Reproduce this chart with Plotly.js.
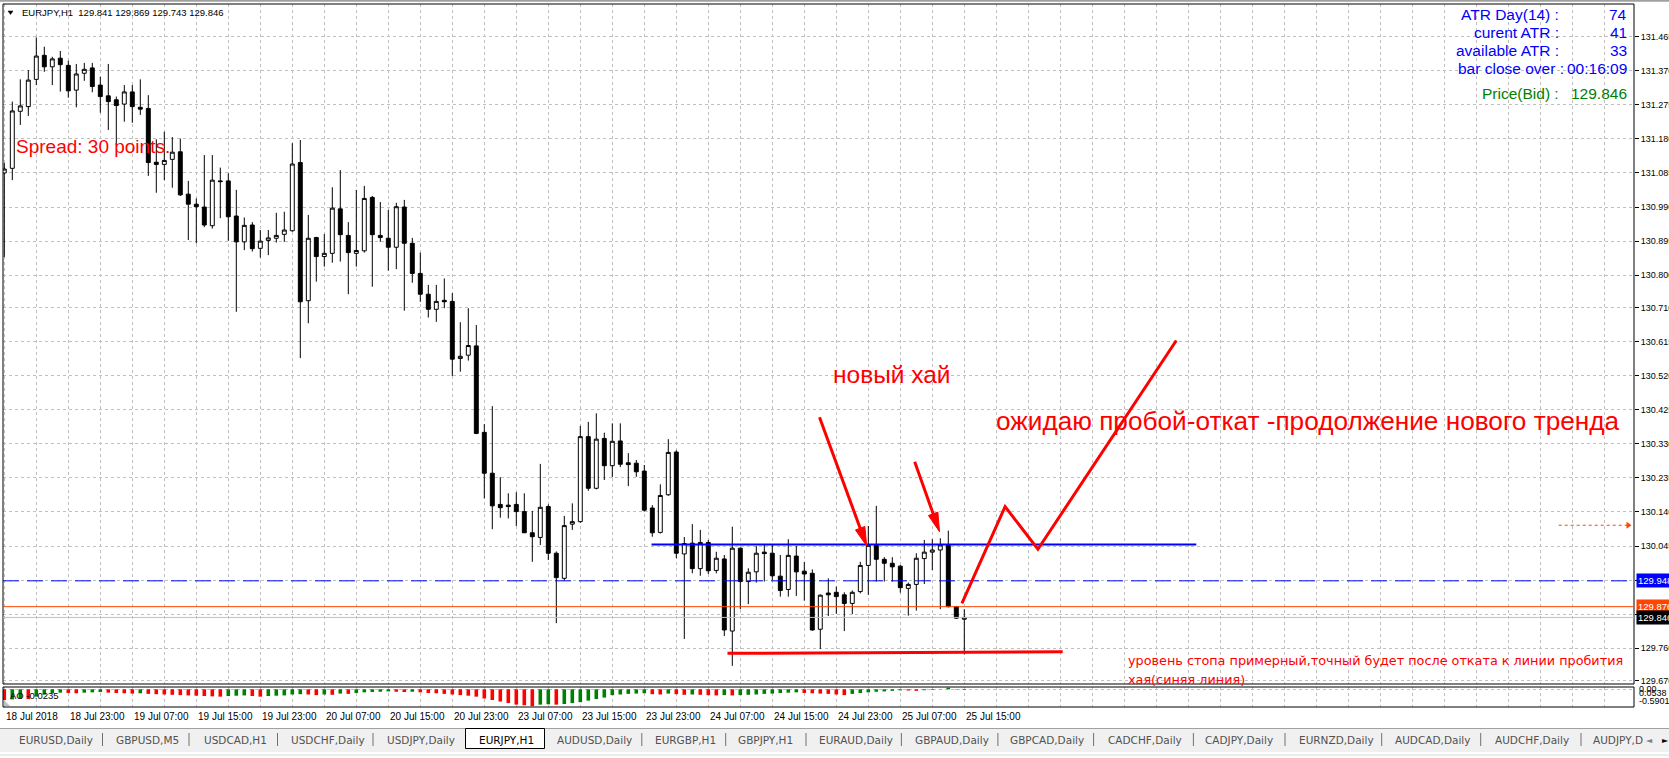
<!DOCTYPE html>
<html><head><meta charset="utf-8">
<script src="https://cdn.plot.ly/plotly-3.0.1.min.js"></script>
<style>html,body{margin:0;padding:0;background:#fff;overflow:hidden}#chart{width:1669px;height:758px}</style>
</head><body><div id="chart"></div>
<script>
// ---------------- DATA (EURJPY, H1) ----------------
const open = [131.085,131.098,131.257,131.270,131.346,131.413,131.381,131.405,131.385,131.316,
131.363,131.378,131.330,131.300,131.289,131.277,131.311,131.268,131.265,131.115,
131.109,131.123,131.144,131.026,130.998,130.990,130.938,131.063,131.063,130.965,
130.893,130.940,130.875,130.897,130.903,130.914,130.924,131.114,130.729,130.905,
130.852,130.861,130.985,130.911,130.861,130.868,131.017,130.911,130.903,130.878,
130.990,130.889,130.805,130.747,130.705,130.730,130.727,130.568,130.577,130.603,
130.362,130.248,130.161,130.159,130.161,130.141,130.082,130.069,130.155,130.025,
129.955,130.106,130.113,130.350,130.206,130.345,130.269,130.338,130.277,130.276,
130.254,130.151,130.083,130.188,130.307,130.023,130.053,129.982,130.055,129.977,
130.009,129.808,130.039,129.946,129.973,130.028,130.025,129.961,129.924,130.017,
129.975,129.969,129.813,129.914,129.916,129.909,129.885,129.918,129.991,130.047,
130.008,129.997,129.989,129.927,129.938,130.010,130.028,130.034,130.047,129.876,
129.841];
const high = [131.113,131.284,131.346,131.372,131.463,131.437,131.409,131.425,131.398,131.389,
131.392,131.392,131.353,131.389,131.298,131.330,131.330,131.346,131.302,131.179,
131.200,131.185,131.181,131.063,131.014,131.135,131.135,131.100,131.084,131.038,
130.961,130.948,130.926,130.926,130.974,130.977,131.168,131.177,130.968,130.907,
130.915,131.045,131.093,130.948,131.038,131.049,131.021,131.004,130.982,131.002,
131.010,130.904,130.863,130.773,130.773,130.791,130.750,130.669,130.708,130.661,
130.385,130.435,130.237,130.192,130.195,130.192,130.143,130.274,130.161,130.030,
130.129,130.164,130.380,130.391,130.415,130.361,130.387,130.387,130.304,130.285,
130.271,130.159,130.217,130.343,130.312,130.070,130.106,130.090,130.062,130.029,
130.020,130.099,130.041,129.983,130.045,130.048,130.048,130.020,130.064,130.045,
130.001,129.980,129.910,129.955,129.932,129.916,129.921,130.001,130.101,130.157,
130.014,130.014,129.992,129.943,130.025,130.062,130.064,130.067,130.088,129.878,
129.869];
const low = [130.851,131.065,131.219,131.244,131.330,131.367,131.330,131.312,131.295,131.268,
131.342,131.310,131.253,131.205,131.163,131.228,131.225,131.247,131.077,131.030,
131.065,131.044,131.021,130.898,130.889,130.934,130.930,130.959,130.896,130.698,
130.870,130.866,130.849,130.856,130.891,130.893,130.921,130.569,130.666,130.782,
130.824,130.835,130.838,130.747,130.824,130.863,130.768,130.893,130.813,130.817,
130.701,130.779,130.726,130.682,130.670,130.708,130.519,130.531,130.562,130.357,
130.178,130.092,130.124,130.122,130.101,130.082,130.001,130.048,130.006,129.830,
129.948,130.090,130.110,130.199,130.203,130.229,130.237,130.265,130.212,130.238,
130.141,130.071,130.080,130.185,130.011,129.786,129.969,129.962,129.967,129.969,
129.794,129.711,129.869,129.883,129.943,129.946,129.950,129.904,129.904,129.906,
129.893,129.809,129.758,129.850,129.856,129.808,129.855,129.913,129.909,129.946,
129.946,129.946,129.915,129.851,129.865,129.939,129.978,129.869,129.874,129.842,
129.743];
const close = [131.096,131.258,131.272,131.344,131.411,131.381,131.403,131.387,131.314,131.361,
131.374,131.326,131.298,131.284,131.273,131.311,131.270,131.263,131.114,131.109,
131.120,131.143,131.024,130.998,130.991,130.940,131.065,131.061,130.963,130.893,
130.939,130.874,130.895,130.904,130.911,130.926,131.110,130.726,130.903,130.852,
130.861,130.987,130.913,130.863,130.869,131.014,130.913,130.905,130.878,130.991,
130.889,130.805,130.747,130.705,130.727,130.726,130.566,130.574,130.604,130.359,
130.248,130.157,130.152,130.155,130.141,130.082,130.071,130.153,130.025,129.957,
130.102,130.113,130.350,130.206,130.343,130.269,130.337,130.273,130.272,130.252,
130.145,130.082,130.186,130.306,130.025,130.052,129.982,130.055,129.976,130.011,
129.811,130.039,129.946,129.972,130.025,130.024,129.962,129.921,130.019,129.973,
129.967,129.811,129.908,129.909,129.904,129.885,129.916,129.991,130.047,130.008,
129.997,129.987,129.929,129.938,130.011,130.028,130.034,130.048,129.876,129.844,
129.846];
// Awesome Oscillator
const ao = [-0.376,-0.354,-0.322,-0.343,-0.258,-0.182,-0.139,-0.118,-0.129,-0.139,
-0.118,-0.107,-0.097,-0.118,-0.129,-0.139,-0.150,-0.139,-0.161,-0.172,
-0.182,-0.193,-0.204,-0.215,-0.225,-0.236,-0.247,-0.258,-0.236,-0.225,
-0.215,-0.236,-0.258,-0.236,-0.225,-0.215,-0.182,-0.172,-0.182,-0.204,
-0.182,-0.193,-0.150,-0.161,-0.129,-0.107,-0.097,-0.086,-0.075,-0.086,
-0.097,-0.086,-0.107,-0.129,-0.139,-0.161,-0.182,-0.204,-0.225,-0.258,
-0.322,-0.376,-0.429,-0.483,-0.537,-0.558,-0.590,-0.537,-0.526,-0.537,
-0.515,-0.483,-0.451,-0.397,-0.343,-0.290,-0.204,-0.182,-0.161,-0.150,
-0.139,-0.172,-0.182,-0.150,-0.172,-0.193,-0.182,-0.193,-0.204,-0.215,
-0.204,-0.215,-0.204,-0.193,-0.182,-0.161,-0.150,-0.129,-0.118,-0.107,
-0.129,-0.139,-0.150,-0.161,-0.182,-0.204,-0.161,-0.129,-0.107,-0.086,
-0.075,-0.054,-0.038,-0.043,-0.054,-0.032,-0.021,-0.008,0.054,-0.012,
-0.0235];
const timeTickBars = [0,8,16,24,32,40,48,56,64,72,80,88,96,104,112,120];
const timeTickLabels = ["18 Jul 2018","18 Jul 23:00","19 Jul 07:00","19 Jul 15:00","19 Jul 23:00",
"20 Jul 07:00","20 Jul 15:00","20 Jul 23:00","23 Jul 07:00","23 Jul 15:00","23 Jul 23:00",
"24 Jul 07:00","24 Jul 15:00","24 Jul 23:00","25 Jul 07:00","25 Jul 15:00"];
const priceTicks = [131.465,131.370,131.275,131.180,131.085,130.990,130.895,130.800,130.710,130.615,
130.520,130.425,130.330,130.235,130.140,130.045,129.950,129.855,129.760,129.670];
const hiddenPriceTicks = [129.950,129.855];
const aoAxisLabels = ["0.00","0.0538","-0.5901"];
const infoLabels = ["ATR Day(14) :","curent ATR :","available ATR :","bar close over :"];
const infoValues = ["74","41","33","00:16:09"];
const spreadPoints = 30;
const blueLevel = 129.948, askLevel = 129.876, bidLevel = close[close.length-1];
const breakoutLevel = 130.049, alertLevel = 130.103;
const tabNames = ["EURUSD,Daily","GBPUSD,M5","USDCAD,H1","USDCHF,Daily","USDJPY,Daily","EURJPY,H1",
"AUDUSD,Daily","EURGBP,H1","GBPJPY,H1","EURAUD,Daily","GBPAUD,Daily","GBPCAD,Daily","CADCHF,Daily",
"CADJPY,Daily","EURNZD,Daily","AUDCAD,Daily","AUDCHF,Daily","AUDJPY,D"];
const activeTab = "EURJPY,H1";

// ---------------- LAYOUT GEOMETRY ----------------
const W = 1669, H = 758;
const PX = x => x / W, PY = y => 1 - y / H;
const PLOT_L = 3, PLOT_R = 1634, MAIN_T = 4, MAIN_B = 684, AO_T = 687, AO_B = 707;
const BAR_PX = 8, X_MIN = -0.1625, X_MAX = X_MIN + (PLOT_R - PLOT_L) / BAR_PX;
const Y_MAX = 131.5561, Y_MIN = 129.6604;
const toPx = (b, p) => [PLOT_L + (b - X_MIN) * BAR_PX, MAIN_T + (Y_MAX - p) / (Y_MAX - Y_MIN) * (MAIN_B - MAIN_T)];
const RED = '#ff0000', BLUE = '#0000ff', ORANGE = '#ff4500';
const FONT = 'Liberation Sans, Arial, sans-serif';
const bars = open.map((_, i) => i);
const vgrid = []; for (let b = 0; b <= 200; b += 4) vgrid.push(b);

const aoColors = ao.map((v, i) => (i > 0 && v > ao[i - 1]) ? '#008000' : '#ff0000');

const traces = [
  {type:'candlestick', x:bars, open, high, low, close, xaxis:'x', yaxis:'y',
   whiskerwidth:0, line:{width:1},
   increasing:{line:{color:'#000', width:1}, fillcolor:'#ffffff'},
   decreasing:{line:{color:'#000', width:1}, fillcolor:'#000000'},
   showlegend:false, hoverinfo:'skip'},
  {type:'bar', x:bars, y:ao, xaxis:'x2', yaxis:'y2', width:0.45,
   marker:{color:aoColors, line:{width:0}}, showlegend:false, hoverinfo:'skip'}
];

// ---------------- DRAWINGS ----------------
const shapes = [];
const ann = [];
shapes.push({type:'line', xref:'paper', yref:'paper', x0:0, x1:1, y0:PY(0.8), y1:PY(0.8), line:{color:'#a0a0a0', width:2}});
shapes.push({type:'rect', xref:'paper', yref:'paper', x0:PX(PLOT_L), x1:PX(PLOT_R), y0:PY(MAIN_B), y1:PY(MAIN_T), line:{color:'#000', width:1}, fillcolor:'rgba(0,0,0,0)'});
shapes.push({type:'rect', xref:'paper', yref:'paper', x0:PX(PLOT_L), x1:PX(PLOT_R), y0:PY(AO_B), y1:PY(AO_T), line:{color:'#000', width:1}, fillcolor:'rgba(0,0,0,0)'});
shapes.push({type:'path', xref:'paper', yref:'paper', path:`M${PX(8)},${PY(11)} L${PX(13)},${PY(11)} L${PX(10.5)},${PY(14.5)} Z`, fillcolor:'#000', line:{color:'#000', width:0.5}});
shapes.push({type:'path', xref:'paper', yref:'paper', path:`M${PX(4)},${PY(700)} L${PX(4)},${PY(706)} L${PX(10)},${PY(706)} Z`, fillcolor:'#c0c0c0', line:{width:0}});

shapes.push({type:'line', xref:'paper', yref:'y', x0:PX(PLOT_L), x1:PX(PLOT_R), y0:bidLevel, y1:bidLevel, line:{color:'#c0c0c0', width:1}});
shapes.push({type:'line', xref:'paper', yref:'y', x0:PX(PLOT_L), x1:PX(PLOT_R), y0:askLevel, y1:askLevel, line:{color:ORANGE, width:1}});
shapes.push({type:'line', xref:'paper', yref:'y', x0:PX(PLOT_L), x1:PX(PLOT_R), y0:blueLevel, y1:blueLevel, line:{color:BLUE, width:1, dash:'16px,8px'}});
shapes.push({type:'line', xref:'x', yref:'y', x0:80.9, x1:149.0, y0:breakoutLevel, y1:breakoutLevel, line:{color:BLUE, width:2}});
shapes.push({type:'line', xref:'x', yref:'y', x0:90.4, y0:129.746, x1:132.3, y1:129.750, line:{color:RED, width:3}});
const zigzag = [[119.7,129.885],[125.1,130.155],[129.2,130.036],[146.5,130.618]];
shapes.push({type:'path', xref:'x', yref:'y', path:'M' + zigzag.map(p => p.join(',')).join(' L'), line:{color:RED, width:3}, fillcolor:'rgba(0,0,0,0)'});
shapes.push({type:'line', xref:'x', yref:'y', x0:194.3, x1:202.9, y0:alertLevel, y1:alertLevel, line:{color:ORANGE, width:1, dash:'3px,3px'}});
(function(){
  const [tx, ty] = toPx(203.4, alertLevel);
  shapes.push({type:'path', xref:'paper', yref:'paper', path:`M${PX(tx)},${PY(ty)} L${PX(tx-5)},${PY(ty-3.5)} L${PX(tx-5)},${PY(ty+3.5)} Z`, fillcolor:ORANGE, line:{width:0}});
})();
function arrow(from, to){
  const [sx, sy] = toPx(from[0], from[1]), [tx, ty] = toPx(to[0], to[1]);
  const dx = tx - sx, dy = ty - sy, len = Math.hypot(dx, dy), ux = dx/len, uy = dy/len, nx = -uy, ny = ux;
  const HL = 19, HW = 5;
  const bx = tx - ux*HL, by = ty - uy*HL, ex = tx - ux*(HL-4), ey = ty - uy*(HL-4);
  shapes.push({type:'line', xref:'paper', yref:'paper', x0:PX(sx), y0:PY(sy), x1:PX(ex), y1:PY(ey), line:{color:RED, width:3}});
  shapes.push({type:'path', xref:'paper', yref:'paper', path:`M${PX(tx)},${PY(ty)} L${PX(bx+nx*HW)},${PY(by+ny*HW)} L${PX(bx-nx*HW)},${PY(by-ny*HW)} Z`, fillcolor:RED, line:{color:RED, width:1}});
}
arrow([101.9,130.404],[107.8,130.045]);
arrow([113.8,130.280],[116.9,130.085]);

// ---------------- TEXTS ----------------
const T = (x, y, text, opt = {}) => ann.push(Object.assign({xref:'paper', yref:'paper', x:PX(x), y:PY(y), text, showarrow:false, xanchor:'left', yanchor:'middle', font:{family:FONT, size:10, color:'#000'}}, opt));
const n = v => v.toFixed(3);
const last = close.length - 1;
T(20, 12.7, `EURJPY,H1\u00a0\u00a0${n(open[last])} ${n(high[last])} ${n(low[last])} ${n(close[last])}`, {font:{family:FONT, size:9.5, color:'#000'}});
T(14, 146.5, `Spread: ${spreadPoints} points.`, {font:{family:FONT, size:19, color:RED}});
const infoY = [14, 32.3, 50, 68.3];
infoLabels.forEach((l, i) => {
  T(i === 3 ? 1566 : 1561, infoY[i], l, {xanchor:'right', font:{family:FONT, size:15.5, color:BLUE}});
  T(1629, infoY[i], infoValues[i], {xanchor:'right', font:{family:FONT, size:15.5, color:BLUE}});
});
T(1561, 93.3, 'Price(Bid) :', {xanchor:'right', font:{family:FONT, size:15.5, color:'#008000'}});
T(1629, 93.3, n(close[last]), {xanchor:'right', font:{family:FONT, size:15.5, color:'#008000'}});
T(831, 375, 'новый хай', {font:{family:FONT, size:24.5, color:RED}});
T(994, 421, 'ожидаю пробой-откат -продолжение нового тренда', {font:{family:FONT, size:26.2, color:RED}});
T(1126, 660.7, 'уровень стопа примерный,точный будет после отката к линии пробития', {font:{family:'DejaVu Sans, sans-serif', size:12.8, color:RED}});
T(1126, 679.3, 'хая(синяя линия)', {font:{family:'DejaVu Sans, sans-serif', size:12.8, color:RED}});
[[blueLevel, BLUE], [askLevel, ORANGE], [bidLevel, '#000']].forEach(([p, c]) => {
  ann.push({xref:'paper', yref:'y', x:PX(1635.5), y:p, text:n(p), showarrow:false, xanchor:'left', yanchor:'middle', bgcolor:c, borderpad:1, font:{family:FONT, size:9.5, color:'#fff'}});
});
T(8, 695, `AO ${ao[last].toFixed(4)}`, {font:{family:FONT, size:9.5, color:'#000'}});
T(1637, 689, aoAxisLabels[0], {font:{family:FONT, size:9, color:'#000'}});
T(1637, 693, aoAxisLabels[1], {font:{family:FONT, size:9, color:'#000'}});
T(1637, 701, aoAxisLabels[2], {font:{family:FONT, size:9, color:'#000'}});
timeTickBars.forEach((b, i) => {
  ann.push({xref:'x2', yref:'paper', x:b, y:PY(716.5), text:timeTickLabels[i], showarrow:false, xanchor:'left', yanchor:'middle', xshift:-0.5, font:{family:FONT, size:10, color:'#000'}});
});

// ---------------- TAB BAR ----------------
shapes.push({type:'rect', xref:'paper', yref:'paper', x0:0, x1:1, y0:PY(752), y1:PY(728.5), fillcolor:'#f0f0f0', line:{width:0}, layer:'below'});
shapes.push({type:'line', xref:'paper', yref:'paper', x0:0, x1:1, y0:PY(728.5), y1:PY(728.5), line:{color:'#a0a0a0', width:1}});
shapes.push({type:'line', xref:'paper', yref:'paper', x0:0, x1:1, y0:PY(755), y1:PY(755), line:{color:'#d8d8d8', width:1}});
const tabX = [17,113.6,201.8,288.6,384.6,476.8,555,652.5,736.4,816.8,912.5,1007.9,1105.5,1203.4,1296.8,1392.8,1493.3,1591];
const sepX = [102.5,189,277.5,373,641.8,725.7,806,901.4,997.9,1093.6,1193.4,1285,1381.7,1480.7,1581];
shapes.push({type:'rect', xref:'paper', yref:'paper', x0:PX(465.5), x1:PX(544.5), y0:PY(748.5), y1:PY(728.5), fillcolor:'#fff', line:{color:'#000', width:1}});
sepX.forEach(x => shapes.push({type:'line', xref:'paper', yref:'paper', x0:PX(x), x1:PX(x), y0:PY(733), y1:PY(746), line:{color:'#707070', width:1}}));
tabNames.forEach((t, i) => T(tabX[i], 740, t, {font:{family:'DejaVu Sans, sans-serif', size:10.5, color: t === activeTab ? '#000' : '#505050'}}));
T(1644, 740, '\u25C4', {font:{family:'DejaVu Sans', size:8, color:'#808080'}});
T(1660, 740, '\u25BA', {font:{family:'DejaVu Sans', size:8, color:'#000'}});

// ---------------- AXES ----------------
const grid = {showgrid:true, gridcolor:'#c0c0c0', griddash:'3px,3px', gridwidth:1, zeroline:false, showline:false, fixedrange:true};
const layout = {
  width:W, height:H, margin:{l:0, r:0, t:0, b:0, pad:0},
  paper_bgcolor:'#fff', plot_bgcolor:'#fff', showlegend:false, hovermode:false,
  xaxis:Object.assign({domain:[PX(PLOT_L), PX(PLOT_R)], range:[X_MIN, X_MAX], anchor:'y', tickmode:'array', tickvals:vgrid, showticklabels:false, ticks:'', rangeslider:{visible:false}}, grid),
  yaxis:Object.assign({domain:[PY(MAIN_B), PY(MAIN_T)], range:[Y_MIN, Y_MAX], anchor:'x', side:'right', tickmode:'array', tickvals:priceTicks,
    ticktext:priceTicks.map(p => hiddenPriceTicks.includes(p) ? '' : n(p)), ticks:'outside', ticklen:4, tickcolor:'#000', tickwidth:1,
    tickfont:{family:FONT, size:9, color:'#000'}}, grid),
  xaxis2:Object.assign({domain:[PX(PLOT_L), PX(PLOT_R)], range:[X_MIN, X_MAX], anchor:'y2', tickmode:'array', tickvals:vgrid, showticklabels:false, ticks:''}, grid),
  yaxis2:Object.assign({domain:[PY(AO_B), PY(AO_T)], range:[-0.62, 0.08], anchor:'x2', side:'right', tickmode:'array', tickvals:[0], showticklabels:false, ticks:''}, grid),
  shapes, annotations:ann
};
Plotly.newPlot('chart', traces, layout, {staticPlot:true, displayModeBar:false});
</script>
</body></html>
